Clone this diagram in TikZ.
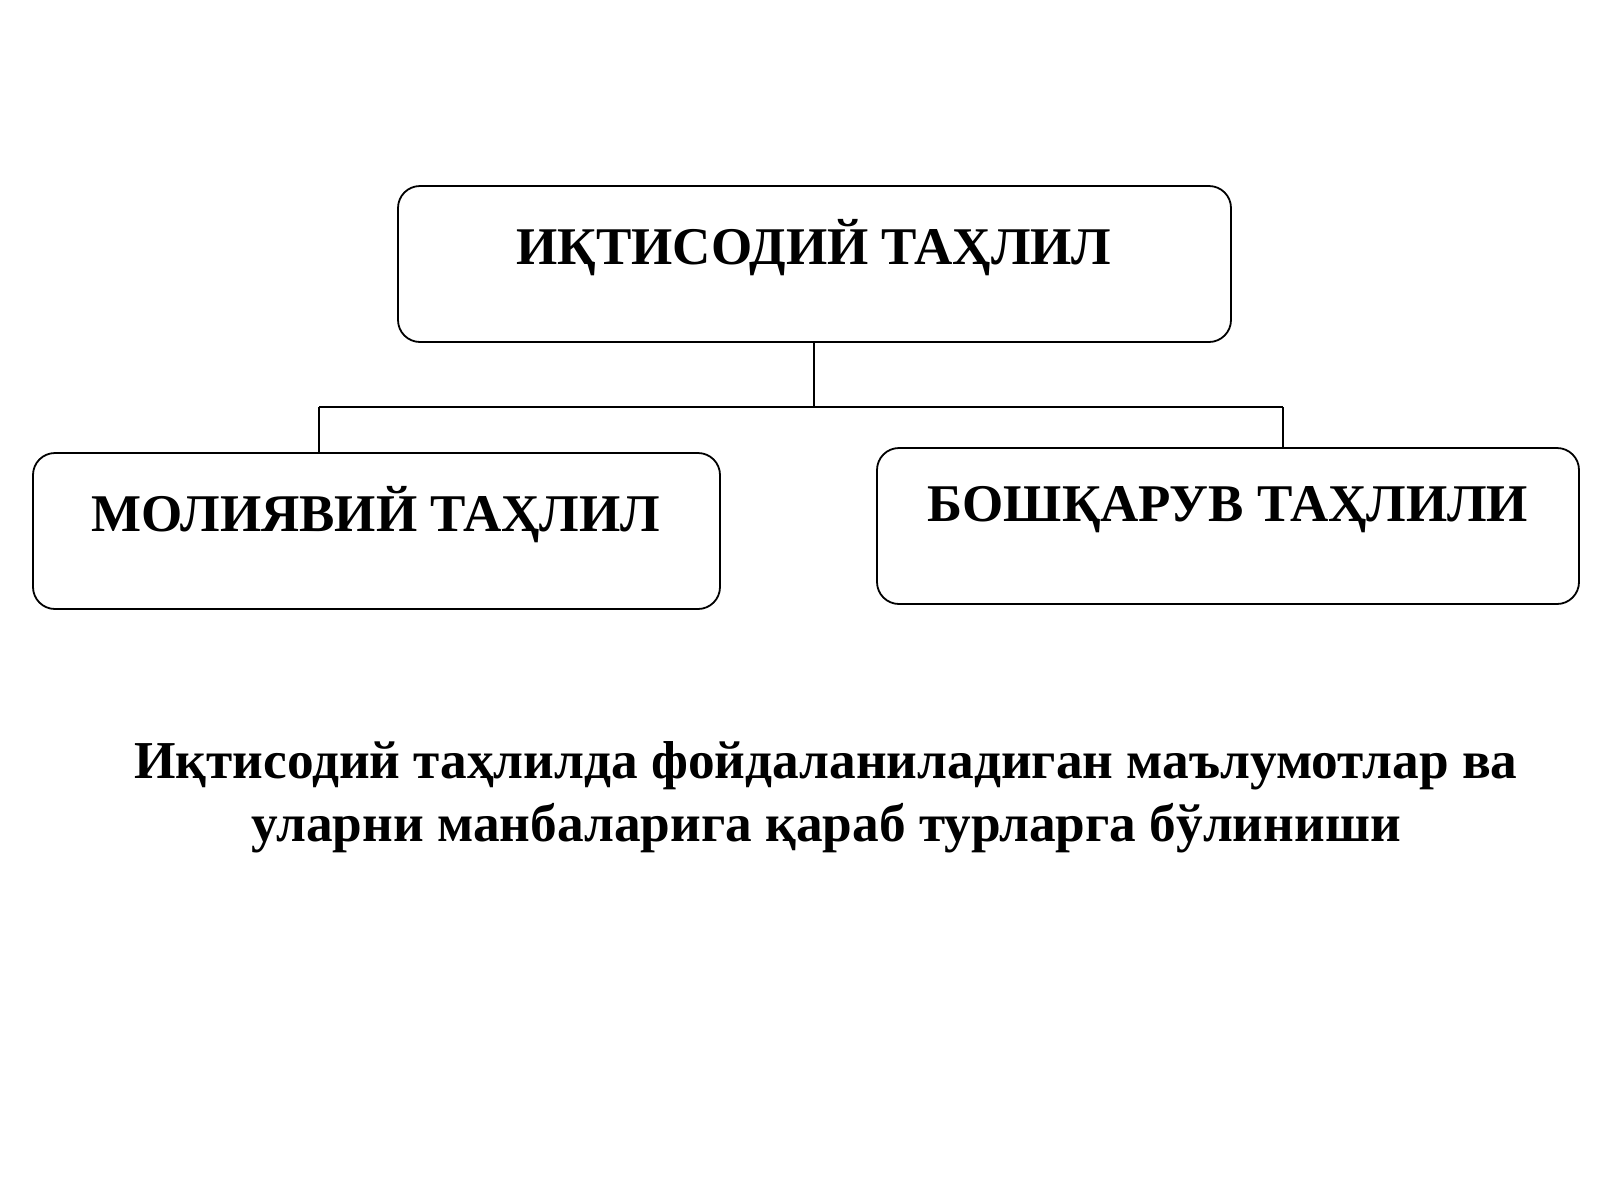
\documentclass[tikz,border=0pt]{standalone}
\usepackage{fontspec}
\setmainfont{Liberation Serif}
\begin{document}
\begin{tikzpicture}[x=1pt,y=-1pt,
 box/.style={draw,line width=1.8pt,rounded corners=22pt},
 lbl/.style={font=\bfseries\fontsize{53}{60}\selectfont,inner sep=0},
 ln/.style={line width=1.8pt}]
\useasboundingbox (0,0) rectangle (1600,1200);
\draw[box] (398,186) rectangle (1231,342);
\draw[box] (33,453) rectangle (720,609);
\draw[box] (877,448) rectangle (1579,604);
\node[lbl] (t) at (814,248) {ИҚТИСОДИЙ ТАҲЛИЛ};
\node[lbl] (l) at (376,515) {МОЛИЯВИЙ ТАҲЛИЛ};
\node[lbl] (r) at (1228,510) {БОШҚАРУВ ТАҲЛИЛИ};
\coordinate (a) at (814,342);
\coordinate (b) at (814,407);
\coordinate (c) at (319,407);
\coordinate (d) at (319,453);
\coordinate (e) at (1283,407);
\coordinate (f) at (1283,448);
\draw[ln] (a)--(b) (c)--(e) (c)--(d) (e)--(f);
\node[font=\bfseries\fontsize{53.3}{63}\selectfont,align=center,inner sep=0] (cap) at (826,797)
 {Иқтисодий таҳлилда фойдаланиладиган маълумотлар ва\\уларни манбаларига қараб турларга бўлиниши};
\end{tikzpicture}
\end{document}
